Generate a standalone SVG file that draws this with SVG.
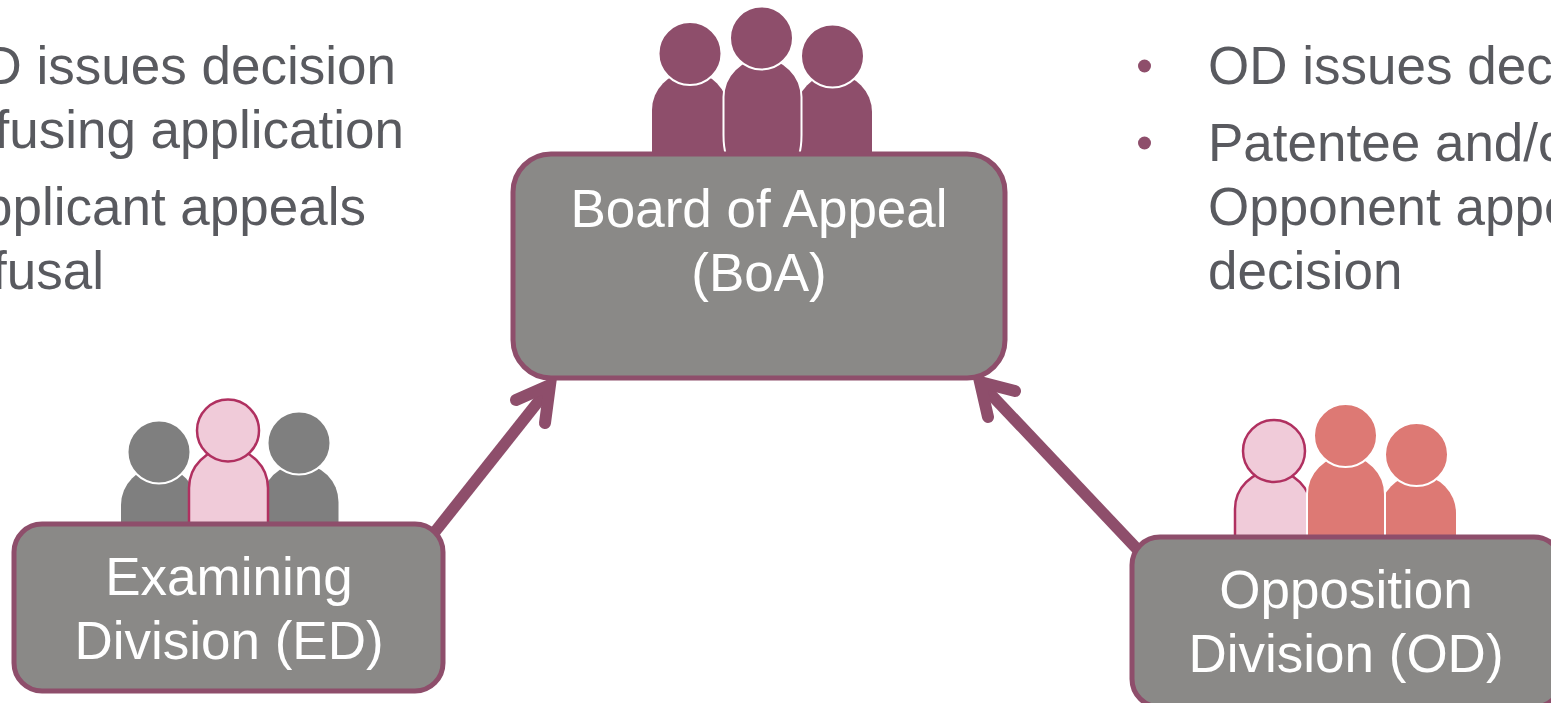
<svg xmlns="http://www.w3.org/2000/svg" width="1551" height="703" viewBox="0 0 1551 703">
<style>
.t{font-family:"Liberation Sans",Arial,sans-serif;font-size:53px;fill:#595a5f}
.l{font-family:"Liberation Sans",Arial,sans-serif;font-size:53px;fill:#fff;text-anchor:middle}
.box{fill:#8a8987;stroke:#8e4e6b;stroke-width:5}
.conn{fill:none;stroke:#8e4e6b;stroke-width:11.500}
.head{fill:none;stroke:#8e4e6b;stroke-width:12;stroke-linecap:round;stroke-linejoin:miter}
.w{stroke:#fff;stroke-width:2}
.plum{fill:#8e4e6b}
.grey{fill:#7f7f7f}
.sal{fill:#dd7974}
.pink{fill:#f0cbd9;stroke:#b03060;stroke-width:2.500}
.bul{fill:#8e4e6b}
</style>
<rect width="1551" height="703" fill="#fff"/>
<g id="text-left">
<text class="t" x="396" y="84" text-anchor="end">OD issues decision</text>
<text class="t" x="404" y="148" text-anchor="end">refusing application</text>
<text class="t" x="366" y="225" text-anchor="end">Applicant appeals</text>
<text class="t" x="104" y="289" text-anchor="end">refusal</text>
</g>
<g id="text-right">
<circle class="bul" cx="1144.500" cy="66" r="6.500"/>
<circle class="bul" cx="1144.500" cy="143" r="6.500"/>
<text class="t" x="1208" y="84">OD issues decision</text>
<text class="t" x="1208" y="161">Patentee and/or</text>
<text class="t" x="1208" y="225">Opponent appeals</text>
<text class="t" x="1208" y="289">decision</text>
</g>
<g id="connectors">
<line class="conn" x1="434" y1="533" x2="549" y2="388"/>
<path class="head" d="M516 400L550 385L545 423"/>
<line class="conn" x1="1138" y1="550" x2="982" y2="385"/>
<path class="head" d="M1015 391L980 382L988 417"/>
</g>
<g id="people-boa">
<path class="plum" d="M652 153V110A38 38 0 0 1 728 110V153Z"/>
<path class="plum" d="M796 153V112A38 38 0 0 1 872 112V153Z"/>
<circle class="plum w" cx="690" cy="53.500" r="31.500"/>
<circle class="plum w" cx="832.500" cy="56" r="31.500"/>
<path class="plum w" d="M723.500 135V97A38.500 38.500 0 0 1 801.500 97V135Q801.500 147 799 155H726Q723.500 147 723.500 135Z"/>
<circle class="plum w" cx="761.500" cy="38" r="31.500"/>
</g>
<g id="node-boa">
<rect class="box" x="513" y="154" width="492" height="224" rx="38"/>
<text class="l" x="759" y="227">Board of Appeal</text>
<text class="l" x="759" y="291">(BoA)</text>
</g>
<g id="people-ed">
<path class="grey" d="M121 524V505A38 38 0 0 1 197 505V524Z"/>
<path class="grey" d="M262 524V502A38 38 0 0 1 338.500 502V524Z"/>
<circle class="grey w" cx="159" cy="452" r="31.500"/>
<circle class="grey w" cx="299" cy="443" r="31.500"/>
<path class="pink" d="M189 524V488A39.500 39.500 0 0 1 268 488V524Z"/>
<circle class="pink" cx="228" cy="430.500" r="31"/>
</g>
<g id="node-ed">
<rect class="box" x="14" y="524" width="429" height="167" rx="28"/>
<text class="l" x="229" y="595">Examining</text>
<text class="l" x="229" y="659">Division (ED)</text>
</g>
<g id="people-od">
<path class="pink" d="M1235 537V509A38 38 0 0 1 1311 509V537Z"/>
<path class="sal" d="M1380 537V513A38 38 0 0 1 1456 513V537Z"/>
<circle class="sal w" cx="1416.500" cy="454.500" r="31.500"/>
<path class="sal w" d="M1307 539V494A39 39 0 0 1 1385 494V539Z"/>
<circle class="pink" cx="1274" cy="451" r="31"/>
<circle class="sal w" cx="1345.500" cy="435.500" r="31.500"/>
</g>
<g id="node-od">
<rect class="box" x="1132" y="537" width="430" height="170" rx="28"/>
<text class="l" x="1346" y="608">Opposition</text>
<text class="l" x="1346" y="672">Division (OD)</text>
</g>
</svg>
